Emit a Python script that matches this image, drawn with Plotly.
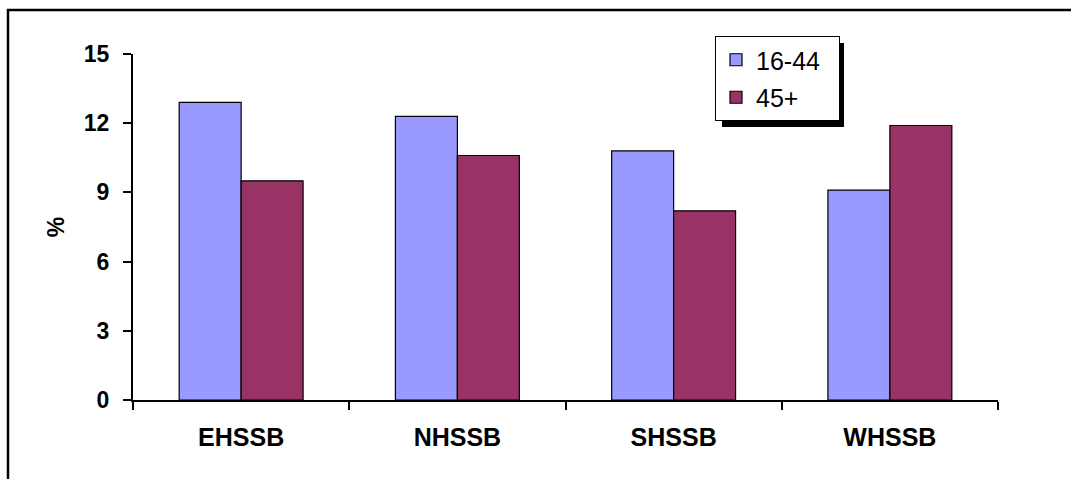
import plotly.graph_objects as go

categories = ["EHSSB", "NHSSB", "SHSSB", "WHSSB"]
age_16_44 = [12.9, 12.3, 10.8, 9.1]
age_45_plus = [9.5, 10.6, 8.2, 11.9]
y_ticks = [0, 3, 6, 9, 12, 15]

W, H = 1071, 479
L, R, T, B = 133, 73, 54, 79
pw, ph = W - L - R, H - T - B
FONT = "Liberation Sans, Arial, sans-serif"

def px_x(x):
    return (x - L) / pw

def px_y(y):
    return (H - B - y) / ph

fig = go.Figure()
fig.add_trace(go.Bar(x=categories, y=age_16_44, name="16-44\u00a0\u00a0", legendgroup="a",
                     marker=dict(color="#9999FF", line=dict(color="black", width=1.2))))
fig.add_trace(go.Bar(x=categories, y=age_45_plus, name="45+", legendgroup="b",
                     marker=dict(color="#993366", line=dict(color="black", width=1.2))))

fig.update_layout(
    width=W, height=H,
    margin=dict(l=L, r=R, t=T, b=B, autoexpand=False),
    paper_bgcolor="white", plot_bgcolor="white",
    font=dict(family=FONT, color="black", size=23),
    barmode="group", bargap=0.427, bargroupgap=0,
    showlegend=True,
    legend=dict(x=px_x(715), y=px_y(36), xanchor="left", yanchor="top",
                bgcolor="white", bordercolor="black", borderwidth=1,
                font=dict(size=25, family=FONT), tracegroupgap=2, itemwidth=30),
    xaxis=dict(showline=True, linecolor="black", linewidth=2,
               ticks="outside", tickson="boundaries", ticklen=8, tickwidth=2,
               tickcolor="black", tickvals=categories,
               ticktext=["<b>%s</b>" % c for c in categories],
               tickfont=dict(size=25, family=FONT),
               ticklabelstandoff=14, showgrid=False, zeroline=False),
    yaxis=dict(range=[0, 15], tickvals=y_ticks,
               ticktext=["<b>%d</b>" % v for v in y_ticks],
               showline=True, linecolor="black",
               linewidth=2, ticks="outside", ticklen=8, tickwidth=2,
               tickcolor="black", showgrid=False, zeroline=False,
               tickfont=dict(size=23, family=FONT), ticklabelstandoff=9,
               title=dict(text="<b>%</b>", font=dict(size=23, family=FONT), standoff=13)),
    shapes=[
        dict(type="rect", xref="paper", yref="paper",
             x0=px_x(8), x1=px_x(1090), y0=px_y(10), y1=px_y(500),
             line=dict(color="black", width=2.5), fillcolor="rgba(0,0,0,0)",
             layer="below"),
        dict(type="rect", xref="paper", yref="paper",
             x0=px_x(722), x1=px_x(844), y0=px_y(43), y1=px_y(127),
             line=dict(width=0), fillcolor="black", layer="above"),
    ],
)

fig.write_html("out.html")
